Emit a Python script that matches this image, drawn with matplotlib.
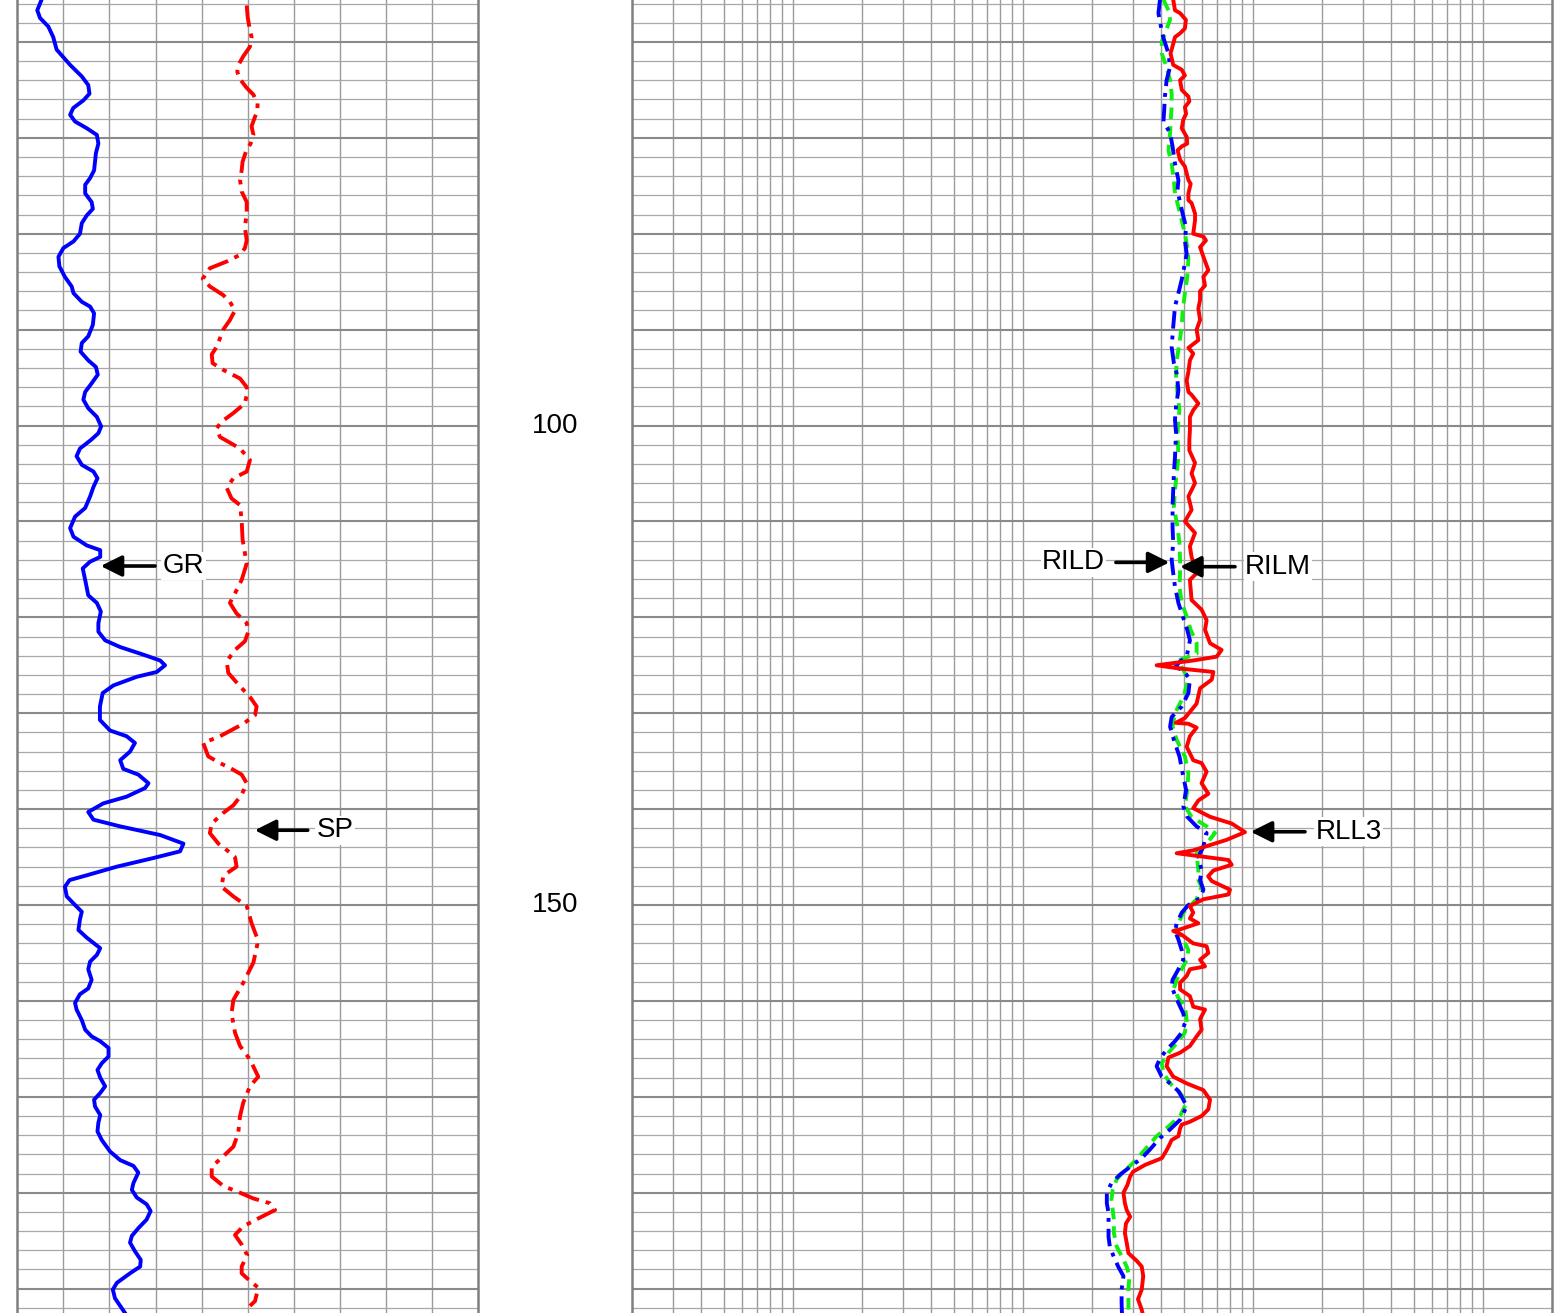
#!/usr/bin/env python3
"""Well log panel: GR / SP track, depth track, resistivity track (log scale)."""

import numpy as np
import matplotlib.pyplot as plt
from matplotlib.ticker import FixedLocator, NullLocator

plt.rcParams["font.family"] = ["Liberation Sans", "DejaVu Sans"]

DEPTH_TOP = 55.63
DEPTH_BOTTOM = 192.54
DEPTH_LABELS = [100, 150]

GR_RANGE = (0, 150)
SP_RANGE = (-100, 100)
RES_RANGE = (0.2, 2000)

# (depth, API)
GR = [
    (55.6, 7.9), (56.7, 6.5), (57.5, 7.4), (58.4, 10.1), (59.5, 11.7), (60.8, 12.8),
    (62.4, 17.2), (63.6, 21.0), (64.5, 23.1), (65.4, 23.5), (66.1, 21.5), (66.9, 18.2),
    (67.6, 17.2), (68.3, 18.8), (69.0, 22.6), (69.7, 25.9), (70.6, 26.4), (71.6, 25.6),
    (73.4, 25.0), (74.2, 23.7), (74.9, 22.1), (75.8, 22.1), (76.7, 24.2), (77.4, 24.6),
    (78.1, 22.6), (78.9, 21.0), (80.0, 20.4), (80.8, 18.3), (81.5, 15.0), (82.4, 13.4),
    (83.4, 13.7), (84.5, 15.5), (85.5, 17.7), (86.2, 18.3), (87.1, 21.0), (87.6, 23.7),
    (88.3, 25.0), (89.5, 24.6), (90.7, 23.1), (91.4, 21.0), (92.3, 20.6), (93.2, 23.1),
    (93.9, 25.6), (94.7, 26.2), (95.6, 24.2), (96.5, 22.1), (97.3, 21.5), (98.2, 23.1),
    (99.1, 25.9), (100.1, 27.3), (100.8, 26.4), (101.5, 24.0), (102.4, 20.4), (103.2, 19.3),
    (104.1, 21.0), (104.8, 24.8), (105.5, 26.1), (106.4, 24.8), (107.4, 23.7), (108.6, 22.1),
    (109.5, 18.8), (110.7, 17.2), (111.6, 18.3), (112.5, 22.6), (113.0, 27.0), (113.7, 27.0),
    (114.2, 23.7), (114.9, 21.3), (116.1, 22.1), (117.7, 23.1), (118.5, 25.9), (119.4, 27.2),
    (120.6, 26.4), (121.5, 26.4), (122.4, 28.6), (123.1, 33.5), (123.9, 41.1), (124.5, 46.5),
    (125.0, 48.1), (125.7, 45.4), (126.2, 38.9), (127.1, 31.3), (127.9, 27.8), (129.3, 26.9),
    (130.7, 26.9), (131.8, 30.2), (132.4, 35.6), (133.1, 38.3), (134.0, 36.7), (134.9, 33.5),
    (135.8, 34.5), (136.4, 39.4), (137.3, 42.7), (137.8, 41.6), (138.7, 35.6), (139.4, 28.0),
    (140.3, 23.1), (141.1, 24.8), (141.8, 33.5), (142.7, 46.5), (143.6, 54.1), (144.4, 53.0),
    (145.1, 44.3), (146.0, 32.4), (146.9, 22.6), (147.4, 17.0), (148.1, 15.5), (149.1, 16.1),
    (150.0, 18.8), (150.7, 21.0), (151.5, 20.4), (152.6, 19.9), (153.4, 22.6), (154.5, 27.0),
    (155.2, 25.9), (155.9, 23.7), (156.7, 23.1), (157.8, 24.2), (158.7, 23.1), (159.3, 20.4),
    (160.2, 18.8), (160.9, 19.3), (162.0, 21.0), (163.0, 22.1), (163.7, 24.2), (164.2, 27.0),
    (164.9, 29.7), (165.8, 29.7), (166.5, 27.5), (167.2, 26.1), (168.0, 27.0), (168.9, 28.6),
    (169.6, 27.0), (170.3, 25.0), (171.0, 25.3), (171.9, 27.0), (172.7, 26.4), (173.6, 26.1),
    (174.5, 27.5), (175.7, 30.2), (176.6, 33.5), (177.2, 37.8), (177.9, 39.4), (179.0, 37.8),
    (179.7, 37.3), (180.5, 38.9), (181.2, 42.1), (181.9, 43.4), (182.8, 42.1), (183.7, 39.4),
    (184.5, 37.3), (185.2, 36.7), (186.1, 38.3), (187.0, 40.2), (187.7, 40.0), (188.4, 36.7),
    (189.4, 32.4), (190.1, 31.1), (191.0, 31.8), (191.8, 33.5), (192.6, 35.2),
]

# (depth, mV)
SP = [
    (56.2, -0.4), (57.4, 0.0), (58.8, 1.0), (59.5, 1.7), (60.5, 1.0), (61.5, -1.9),
    (62.4, -4.0), (63.1, -4.5), (63.8, -3.6), (64.8, -0.4), (65.5, 2.5), (66.4, 4.3),
    (67.3, 4.2), (67.8, 3.2), (68.8, 1.7), (69.7, 2.5), (70.6, 1.3), (71.4, -0.7),
    (72.5, -2.2), (73.4, -2.6), (74.4, -3.3), (75.6, -2.6), (76.7, -0.4), (77.9, -0.4),
    (79.3, -1.2), (80.7, -0.4), (81.5, -1.2), (82.2, -3.3), (82.9, -9.1), (83.6, -16.4),
    (84.7, -19.5), (85.5, -16.4), (86.4, -10.6), (87.1, -7.7), (88.0, -5.5), (89.0, -7.7),
    (90.0, -10.6), (90.9, -12.0), (91.8, -13.5), (92.6, -15.6), (93.5, -15.2), (94.2, -10.6),
    (95.1, -3.3), (96.0, -0.4), (96.8, -0.4), (97.7, -1.2), (98.7, -6.2), (99.6, -11.3),
    (100.3, -13.5), (101.2, -12.0), (101.5, -9.8), (102.4, -3.3), (103.6, 1.0), (104.8, -0.4),
    (105.5, -6.2), (106.5, -9.1), (107.6, -7.0), (108.3, -3.3), (109.9, -2.6), (111.9, -2.2),
    (114.4, -0.4), (116.1, -2.6), (117.5, -5.5), (118.5, -7.7), (119.6, -4.8), (120.6, -0.4),
    (121.5, 0.3), (122.5, -1.2), (123.4, -5.5), (124.6, -9.1), (125.8, -8.4), (127.2, -3.3),
    (128.3, 1.0), (129.3, 3.9), (130.2, 3.2), (131.1, -1.9), (132.4, -12.0), (133.1, -19.3),
    (134.5, -17.1), (135.2, -12.0), (135.7, -7.7), (136.4, -2.6), (137.3, -0.4), (138.5, -2.6),
    (139.6, -6.2), (140.4, -10.6), (141.5, -15.6), (142.5, -16.4), (143.6, -12.7), (144.4, -8.4),
    (145.0, -5.5), (146.0, -4.8), (146.7, -9.1), (147.0, -10.6), (148.1, -11.3), (149.1, -6.2),
    (150.1, -0.4), (151.9, 1.7), (153.3, 3.9), (154.1, 4.2), (156.0, 2.5), (158.1, -1.9),
    (159.9, -6.2), (161.3, -7.0), (163.3, -5.5), (164.7, -3.3), (166.1, 1.0), (167.2, 3.2),
    (167.9, 4.6), (168.9, 1.0), (170.6, -1.9), (172.0, -3.3), (173.8, -4.1), (175.2, -6.2),
    (176.2, -10.6), (177.3, -15.6), (178.3, -15.6), (179.3, -10.6), (180.0, -3.3), (180.6, 2.5),
    (181.1, 9.7), (181.8, 11.9), (182.6, 5.3), (183.5, -1.9), (184.4, -5.5), (185.4, -2.6),
    (186.5, -0.2), (187.7, -2.6), (188.4, -2.6), (189.2, 1.0), (189.9, 4.6), (191.3, 3.2),
    (191.8, 1.0),
]

# (depth, ohm.m)
RLL3 = [
    (55.6, 45.1), (56.7, 45.9), (57.0, 48.3), (57.7, 51.2), (58.6, 50.7), (59.1, 48.3),
    (59.5, 45.9), (60.2, 45.1), (61.2, 43.9), (62.4, 45.1), (62.9, 49.1), (63.5, 50.7),
    (64.0, 48.3), (65.0, 49.1), (65.7, 52.5), (66.2, 53.0), (66.8, 50.7), (67.5, 51.3),
    (68.1, 49.9), (69.0, 49.1), (69.9, 51.6), (70.6, 51.9), (70.9, 49.1), (71.3, 47.1),
    (72.3, 48.3), (73.0, 50.7), (74.4, 52.5), (74.8, 53.7), (75.8, 52.5), (76.5, 52.5),
    (76.8, 54.2), (77.9, 56.1), (78.6, 56.1), (80.0, 55.1), (80.3, 61.0), (80.7, 62.6),
    (81.4, 59.0), (82.4, 61.0), (83.8, 64.1), (84.5, 61.0), (85.4, 62.0), (86.0, 59.0),
    (86.9, 59.0), (87.8, 58.0), (89.0, 59.0), (90.0, 57.0), (91.1, 58.0), (91.9, 52.5),
    (92.5, 55.1), (93.2, 53.3), (94.4, 52.5), (95.3, 51.6), (96.5, 52.5), (96.8, 54.2),
    (97.7, 58.0), (98.4, 55.1), (99.1, 53.3), (100.5, 53.3), (101.5, 53.0), (102.6, 53.0),
    (103.9, 56.1), (105.0, 54.2), (106.0, 56.1), (107.4, 52.5), (108.8, 54.2), (110.0, 50.7),
    (111.2, 56.1), (112.6, 53.3), (113.7, 54.2), (115.4, 57.0), (116.1, 53.3), (118.2, 54.2),
    (119.2, 59.9), (120.3, 63.0), (121.3, 62.0), (122.7, 65.2), (123.4, 73.2), (124.1, 69.7),
    (124.5, 55.1), (125.0, 38.2), (125.3, 46.7), (125.7, 67.4), (126.5, 66.3), (127.4, 59.0),
    (129.0, 57.0), (130.5, 50.7), (131.0, 46.3), (131.1, 52.5), (131.5, 57.0), (132.4, 53.3),
    (133.5, 51.6), (134.9, 55.1), (135.2, 59.9), (136.1, 63.0), (137.3, 59.9), (138.4, 64.1),
    (139.1, 58.0), (139.9, 55.1), (140.8, 65.2), (141.5, 81.0), (142.4, 92.5), (143.2, 77.0),
    (144.3, 55.1), (144.6, 46.7), (145.0, 63.0), (145.3, 78.3), (145.8, 81.0), (146.4, 67.4),
    (147.0, 64.0), (147.5, 66.3), (148.4, 79.6), (148.9, 78.3), (149.4, 61.0), (150.1, 53.3),
    (150.8, 55.1), (151.4, 53.3), (151.9, 58.0), (152.2, 53.3), (152.6, 47.5), (152.7, 45.1),
    (153.1, 49.1), (154.0, 55.1), (154.3, 63.0), (155.0, 64.1), (155.7, 59.0), (156.4, 62.0),
    (156.7, 53.3), (157.4, 51.6), (158.1, 48.3), (158.8, 48.3), (159.5, 53.3), (160.6, 55.1),
    (160.9, 62.0), (161.9, 59.0), (163.0, 59.9), (163.7, 57.0), (164.7, 53.3), (165.4, 48.3),
    (165.9, 43.0), (166.8, 42.2), (167.9, 45.1), (168.6, 51.6), (169.3, 61.0), (170.3, 65.2),
    (171.3, 64.1), (172.0, 59.9), (172.6, 53.3), (172.9, 49.1), (173.3, 48.3), (174.1, 47.5),
    (174.5, 44.4), (175.2, 43.0), (175.7, 41.9), (176.4, 40.2), (177.1, 34.0), (177.8, 30.2),
    (178.3, 29.3), (179.2, 28.5), (180.0, 27.4), (181.1, 27.8), (181.8, 28.3), (182.5, 29.3),
    (183.2, 28.1), (184.2, 27.8), (185.2, 28.3), (186.3, 28.8), (187.1, 31.3), (187.7, 32.9),
    (188.7, 33.4), (190.1, 32.9), (191.1, 31.7), (192.2, 32.9), (192.6, 33.2),
]

RILD = [
    (55.6, 39.5), (57.0, 38.9), (57.9, 39.5), (58.8, 40.2), (59.6, 40.9), (61.2, 43.0),
    (62.6, 43.7), (64.0, 42.2), (65.7, 41.5), (67.1, 41.2), (68.3, 40.9), (69.5, 43.7),
    (70.9, 44.8), (72.7, 45.9), (74.4, 47.5), (75.4, 47.1), (76.8, 48.3), (78.2, 49.9),
    (79.3, 51.3), (80.7, 50.7), (82.1, 51.6), (83.1, 50.7), (84.8, 49.1), (86.2, 47.5),
    (87.6, 45.9), (89.7, 45.1), (91.8, 44.4), (93.5, 45.4), (94.6, 46.7), (96.3, 47.5),
    (98.0, 46.4), (99.4, 45.9), (100.8, 46.4), (103.3, 45.9), (105.0, 45.4), (106.7, 45.1),
    (108.5, 44.8), (110.6, 44.8), (112.3, 45.1), (114.0, 44.4), (115.4, 45.1), (116.8, 45.9),
    (118.5, 47.5), (119.9, 49.6), (121.3, 51.9), (122.4, 53.3), (124.1, 51.6), (124.6, 48.3),
    (125.2, 45.9), (125.5, 49.9), (126.5, 53.3), (127.9, 52.5), (129.3, 49.1), (130.4, 44.4),
    (131.4, 43.7), (132.8, 45.4), (134.5, 48.0), (136.3, 49.6), (138.0, 51.3), (139.7, 49.9),
    (140.8, 51.9), (141.8, 57.0), (142.5, 63.0), (143.9, 61.0), (145.0, 58.0), (146.4, 59.9),
    (147.4, 59.0), (148.4, 61.0), (149.3, 59.0), (150.0, 52.5), (150.8, 49.1), (151.9, 46.7),
    (152.7, 45.9), (153.6, 47.5), (154.7, 49.1), (155.7, 49.9), (156.7, 47.5), (157.8, 44.8),
    (158.5, 44.4), (159.4, 45.9), (160.2, 47.5), (161.3, 49.9), (162.3, 50.7), (163.3, 49.1),
    (164.2, 45.9), (165.1, 42.2), (166.0, 39.5), (166.8, 38.2), (167.9, 40.2), (168.6, 43.7),
    (169.4, 47.5), (170.3, 49.9), (171.0, 51.6), (172.4, 48.3), (173.4, 43.7), (174.3, 39.5),
    (175.5, 35.7), (176.4, 32.9), (177.3, 29.3), (178.1, 26.5), (179.0, 24.3), (180.0, 23.2),
    (181.1, 23.2), (182.1, 23.6), (183.5, 23.6), (184.6, 23.6), (185.6, 23.9), (186.6, 24.8),
    (187.7, 26.0), (188.7, 27.4), (190.1, 26.9), (191.5, 26.9), (192.6, 27.0),
]

RILM = [
    (55.6, 40.9), (56.7, 43.0), (57.7, 43.7), (59.1, 41.5), (60.0, 40.2), (61.2, 40.2),
    (62.6, 42.2), (64.0, 43.7), (65.4, 44.4), (66.8, 44.4), (68.1, 44.0), (69.5, 43.7),
    (71.3, 43.0), (72.7, 44.4), (74.4, 45.4), (75.8, 45.9), (77.2, 47.5), (78.6, 49.1),
    (80.0, 50.7), (81.4, 51.9), (82.7, 52.5), (84.5, 51.9), (86.2, 50.7), (88.0, 49.6),
    (89.7, 49.1), (91.4, 48.0), (93.2, 46.7), (94.9, 46.4), (96.7, 47.1), (98.4, 48.0),
    (99.4, 47.5), (100.8, 47.1), (103.3, 47.5), (105.0, 46.7), (106.7, 45.9), (108.5, 45.4),
    (110.6, 47.1), (112.3, 48.0), (114.0, 48.3), (115.4, 48.3), (116.8, 48.0), (118.5, 49.1),
    (119.9, 51.6), (121.3, 53.7), (122.7, 57.0), (123.8, 57.0), (124.5, 47.5), (125.5, 49.9),
    (126.5, 52.5), (128.3, 49.9), (130.0, 45.9), (131.4, 44.8), (132.8, 46.7), (134.5, 50.7),
    (136.3, 52.5), (138.0, 51.9), (139.7, 50.7), (140.8, 54.2), (141.8, 63.0), (142.5, 68.5),
    (143.6, 63.0), (144.6, 57.0), (146.4, 58.0), (147.4, 58.0), (148.1, 59.9), (149.4, 57.0),
    (150.1, 53.3), (150.8, 49.9), (151.9, 47.5), (152.6, 46.4), (153.6, 49.9), (154.7, 52.5),
    (155.7, 51.6), (156.7, 49.1), (157.8, 46.7), (158.7, 45.4), (159.7, 47.5), (160.6, 50.7),
    (162.0, 51.6), (163.3, 50.7), (164.4, 46.7), (165.4, 43.0), (166.5, 40.2), (167.5, 40.9),
    (168.6, 43.7), (169.6, 48.3), (170.6, 51.6), (172.0, 48.3), (173.1, 43.0), (174.1, 38.2),
    (175.5, 34.0), (176.9, 30.2), (177.8, 27.4), (178.6, 25.6), (179.7, 24.6), (180.7, 24.3),
    (181.8, 24.6), (182.8, 24.9), (184.2, 24.9), (185.6, 25.6), (186.6, 26.9), (187.7, 28.3),
    (188.7, 29.1), (190.1, 28.8), (191.9, 28.8), (192.6, 28.9),
]

RES_GRID = (
    [0.3, 0.4, 0.5, 0.6, 0.7, 0.8, 0.9, 1.0]
    + [2, 3, 4, 5, 6, 7, 8, 9, 10]
    + [20, 30, 40, 50, 60, 70, 80, 90, 100]
    + [200, 300, 400, 500, 600, 700, 800, 900, 1000]
)

W, H = 1568, 1313
FONT_SIZE = 20
LW = 2.8


def style_track(ax, xgrid):
    """Log-paper style grid, no ticks, only the side borders."""
    ax.set_ylim(DEPTH_BOTTOM, DEPTH_TOP)
    ax.xaxis.set_major_locator(FixedLocator(xgrid))
    ax.xaxis.set_minor_locator(NullLocator())
    ax.yaxis.set_major_locator(FixedLocator(np.arange(60, 191, 10)))
    ax.yaxis.set_minor_locator(FixedLocator(np.arange(56, 193, 2)))
    ax.tick_params(which="both", length=0, labelbottom=False, labelleft=False)
    ax.xaxis.grid(True, which="major", color="#9a9a9a", linewidth=1.0)
    ax.yaxis.grid(True, which="major", color="#8a8a8a", linewidth=1.5)
    ax.yaxis.grid(True, which="minor", color="#a8a8a8", linewidth=0.9)
    ax.set_axisbelow(True)
    for side in ("top", "bottom"):
        ax.spines[side].set_visible(False)
    for side in ("left", "right"):
        ax.spines[side].set_color("#808080")
        ax.spines[side].set_linewidth(1.8)


def curve_label(ax, text, head, tail, text_x, ha):
    ax.annotate(
        "", xy=head, xytext=tail,
        arrowprops=dict(arrowstyle="-|>", color="black", lw=2.6,
                        mutation_scale=32, shrinkA=0, shrinkB=0),
    )
    ax.text(text_x, head[1], text, ha=ha, va="center", fontsize=FONT_SIZE,
            bbox=dict(facecolor="white", edgecolor="none", pad=1.0))


def main():
    fig = plt.figure(figsize=(W / 100, H / 100), dpi=100)

    ax_l = fig.add_axes([17.3 / W, 0, 460.7 / W, 1])
    ax_d = fig.add_axes([478 / W, 0, 154 / W, 1])
    ax_r = fig.add_axes([632 / W, 0, 920 / W, 1])

    # gamma ray / SP track
    ax_l.set_xlim(*GR_RANGE)
    style_track(ax_l, np.arange(15, 150, 15))
    gr = np.array(GR)
    ax_l.plot(gr[:, 1], gr[:, 0], color="#0000ff", lw=LW,
              solid_joinstyle="round", solid_capstyle="round")

    ax_sp = ax_l.twiny()
    ax_sp.set_xlim(*SP_RANGE)
    ax_sp.set_ylim(DEPTH_BOTTOM, DEPTH_TOP)
    ax_sp.axis("off")
    sp = np.array(SP)
    ax_sp.plot(sp[:, 1], sp[:, 0], color="#ff0000", lw=LW,
               linestyle=(0, (5.5, 1.8, 1.2, 1.8)), dash_joinstyle="round")

    curve_label(ax_sp, "GR", head=(-63.8, 114.65), tail=(-40.2, 114.65), text_x=-36.8, ha="left")
    curve_label(ax_sp, "SP", head=(3.1, 142.2), tail=(26.1, 142.2), text_x=30.0, ha="left")

    # depth track
    ax_d.set_xlim(0, 1)
    ax_d.set_ylim(DEPTH_BOTTOM, DEPTH_TOP)
    ax_d.axis("off")
    for depth in DEPTH_LABELS:
        ax_d.text(0.5, depth, str(depth), ha="center", va="center", fontsize=FONT_SIZE)

    # resistivity track
    ax_r.set_xscale("log")
    ax_r.set_xlim(*RES_RANGE)
    style_track(ax_r, RES_GRID)
    rilm = np.array(RILM)
    rild = np.array(RILD)
    rll3 = np.array(RLL3)
    ax_r.plot(rilm[:, 1], rilm[:, 0], color="#11ee11", lw=LW, linestyle=(0, (3.0, 1.8)))
    ax_r.plot(rild[:, 1], rild[:, 0], color="#0000ff", lw=LW, linestyle=(0, (4.5, 1.8, 1, 1.8)))
    ax_r.plot(rll3[:, 1], rll3[:, 0], color="#ff0000", lw=LW, solid_joinstyle="round")

    curve_label(ax_r, "RILD", head=(43.4, 114.27), tail=(25.4, 114.27), text_x=22.8, ha="right")
    curve_label(ax_r, "RILM", head=(48.3, 114.72), tail=(83.7, 114.72), text_x=92.6, ha="left")
    curve_label(ax_r, "RLL3", head=(98.0, 142.36), tail=(168.7, 142.36), text_x=187.8, ha="left")

    fig.savefig("out.png", dpi=100)


if __name__ == "__main__":
    main()
